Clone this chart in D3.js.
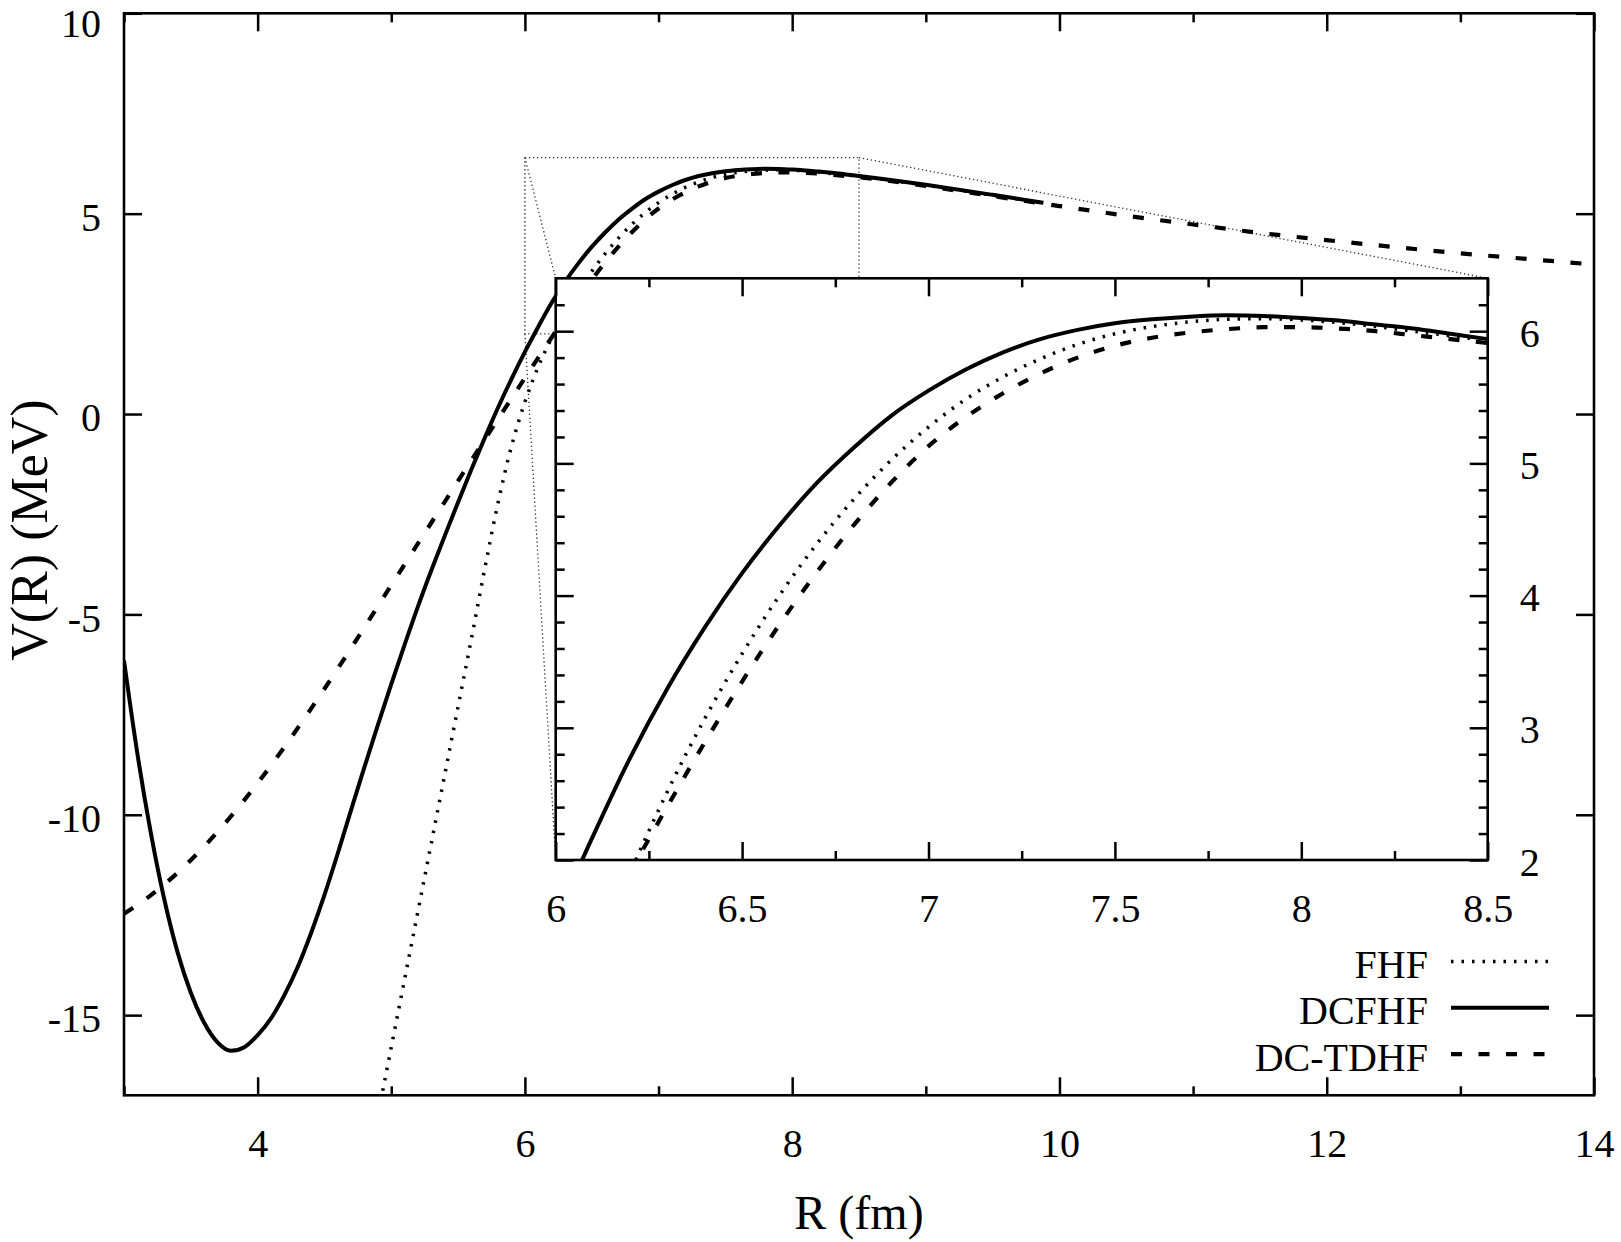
<!DOCTYPE html>
<html>
<head>
<meta charset="utf-8">
<script src="https://d3js.org/d3.v7.min.js"></script>
<style>
  body { margin: 0; background: #fff; }
  svg { display: block; }
  text { font-family: "Liberation Serif", "Times New Roman", serif; fill: #000; }
</style>
</head>
<body>
<div id="chart"></div>
<script>
// R in fm, V(R) in MeV
const rFHF = [4.80, 4.90, 5.00, 5.10, 5.20, 5.30, 5.40, 5.50, 5.60, 5.70, 5.80, 5.90, 6.00, 6.10, 6.20, 6.30, 6.40, 6.50, 6.60, 6.70, 6.80, 6.90, 7.00, 7.10, 7.20, 7.30, 7.40, 7.50, 7.60, 7.70, 7.80, 7.90, 8.00, 8.10, 8.20, 8.30, 8.40, 8.50, 9.00, 9.50, 9.88];
const vFHF = [-19.2, -17.5, -15.8, -14.1, -12.4, -10.7, -9.0, -7.3, -5.6, -3.85, -2.2, -0.8, 0.3, 1.18, 1.9, 2.52, 3.07, 3.56, 4.0, 4.39, 4.73, 5.025, 5.275, 5.485, 5.655, 5.79, 5.9, 5.98, 6.035, 6.07, 6.09, 6.095, 6.085, 6.065, 6.035, 6.0, 5.965, 5.93, 5.71, 5.46, 5.26];

const rDCFHF = [3.0, 3.1, 3.2, 3.3, 3.4, 3.5, 3.6, 3.7, 3.8, 3.9, 4.0, 4.1, 4.2, 4.3, 4.4, 4.5, 4.6, 4.7, 4.8, 4.9, 5.0, 5.1, 5.2, 5.3, 5.4, 5.5, 5.6, 5.7, 5.8, 5.9, 6.0, 6.1, 6.2, 6.3, 6.4, 6.5, 6.6, 6.7, 6.8, 6.9, 7.0, 7.1, 7.2, 7.3, 7.4, 7.5, 7.6, 7.7, 7.8, 7.9, 8.0, 8.1, 8.2, 8.3, 8.4, 8.5, 9.0, 9.5, 9.88];
const vDCFHF = [-6.15, -8.47, -10.44, -12.09, -13.42, -14.44, -15.19, -15.68, -15.89, -15.8, -15.5, -15.08, -14.5, -13.8, -12.95, -12.0, -10.96, -9.87, -8.8, -7.755, -6.74, -5.755, -4.8, -3.9, -3.04, -2.2, -1.38, -0.59, 0.17, 0.88, 1.55, 2.18, 2.775, 3.3, 3.76, 4.17, 4.53, 4.85, 5.12, 5.36, 5.55, 5.71, 5.84, 5.94, 6.01, 6.06, 6.09, 6.11, 6.12, 6.115, 6.1, 6.08, 6.05, 6.02, 5.98, 5.94, 5.72, 5.47, 5.27];

const rTDHF = [3.0, 3.2, 3.4, 3.6, 3.8, 4.0, 4.2, 4.4, 4.6, 4.8, 5.0, 5.2, 5.4, 5.6, 5.8, 6.0, 6.2, 6.4, 6.5, 6.6, 6.7, 6.8, 6.9, 7.0, 7.1, 7.2, 7.3, 7.4, 7.5, 7.6, 7.7, 7.8, 7.9, 8.0, 8.1, 8.2, 8.3, 8.4, 8.5, 9.0, 9.5, 10.0, 10.5, 11.0, 11.5, 12.0, 12.5, 13.0, 13.5, 14.0];
const vTDHF = [-12.47, -12.01, -11.45, -10.79, -10.04, -9.21, -8.31, -7.35, -6.35, -5.32, -4.27, -3.23, -2.19, -1.15, -0.12, 0.9, 1.91, 2.89, 3.35, 3.78, 4.175, 4.535, 4.855, 5.13, 5.35, 5.53, 5.68, 5.8, 5.89, 5.95, 5.99, 6.015, 6.03, 6.03, 6.02, 6.0, 5.97, 5.94, 5.91, 5.69, 5.44, 5.19, 4.95, 4.73, 4.52, 4.34, 4.17, 4.01, 3.87, 3.73];

const mainXDomain = [3, 14];
const mainYDomain = [-17, 10];
const mainXTicks = [4, 6, 8, 10, 12, 14];
const mainXMinor = [3, 5, 7, 9, 11, 13];
const mainYTicks = [-15, -10, -5, 0, 5, 10];

const insetXDomain = [6, 8.5];
const insetYDomain = [2, 6.4];
const insetXTicks = [6, 6.5, 7, 7.5, 8, 8.5];
const insetXMinor = [6.25, 6.75, 7.25, 7.75, 8.25];
const insetYTicks = [2, 3, 4, 5, 6];
const insetYMinor = [2.2, 2.4, 2.6, 2.8, 3.2, 3.4, 3.6, 3.8, 4.2, 4.4, 4.6, 4.8, 5.2, 5.4, 5.6, 5.8, 6.2];

const legendLabels = ["FHF", "DCFHF", "DC-TDHF"];

const width = 1621, height = 1242;
const fontSize = 40;

const styles = [
  { dash: "2.5,8", w: 3.5 },   // FHF dotted
  { dash: null, w: 4 },        // DCFHF solid
  { dash: "11,16.5", w: 4.2 }  // DC-TDHF dashed
];

const series = [
  { r: rFHF, v: vFHF },
  { r: rDCFHF, v: vDCFHF },
  { r: rTDHF, v: vTDHF }
];

const svg = d3.select("#chart").append("svg")
  .attr("width", width)
  .attr("height", height);

const main = { left: 124, right: 1594, top: 13.3, bottom: 1095.3 };
const ins = { left: 555.7, right: 1487.7, top: 278.3, bottom: 860 };

const x = d3.scaleLinear().domain(mainXDomain).range([main.left, main.right]);
const y = d3.scaleLinear().domain(mainYDomain).range([main.bottom, main.top]);
const xi = d3.scaleLinear().domain(insetXDomain).range([ins.left, ins.right]);
const yi = d3.scaleLinear().domain(insetYDomain).range([ins.bottom, ins.top]);

const defs = svg.append("defs");
defs.append("clipPath").attr("id", "clipMain").append("rect")
  .attr("x", main.left).attr("y", main.top)
  .attr("width", main.right - main.left).attr("height", main.bottom - main.top);
defs.append("clipPath").attr("id", "clipInset").append("rect")
  .attr("x", ins.left).attr("y", ins.top)
  .attr("width", ins.right - ins.left).attr("height", ins.bottom - ins.top);

function drawCurves(g, sx, sy) {
  series.forEach((s, i) => {
    const pts = s.r.map((r, j) => [r, s.v[j]]);
    const line = d3.line()
      .x(d => sx(d[0]))
      .y(d => sy(d[1]))
      .curve(d3.curveMonotoneX);
    g.append("path")
      .attr("d", line(pts))
      .attr("fill", "none")
      .attr("stroke", "#000")
      .attr("stroke-width", styles[i].w)
      .attr("stroke-dasharray", styles[i].dash)
      .attr("stroke-linejoin", "round");
  });
}

// one side of ticks, pointing inward
function tickSide(axisFn, scale, values, len, tx, ty, labels, pad) {
  const ax = axisFn(scale)
    .tickValues(values)
    .tickSizeInner(-len)
    .tickSizeOuter(0)
    .tickPadding(pad || 0)
    .tickFormat(labels ? (d => String(d)) : "");
  const g = svg.append("g")
    .attr("transform", `translate(${tx},${ty})`)
    .call(ax);
  g.select(".domain").remove();
  g.selectAll(".tick line").attr("stroke", "#000").attr("stroke-width", 2.5);
  g.selectAll("text").attr("font-size", fontSize).attr("fill", "#000")
    .style("font-family", '"Liberation Serif", "Times New Roman", serif');
  return g;
}

// main curves
const gMain = svg.append("g").attr("clip-path", "url(#clipMain)");

// zoom box and connector lines
const zoomStyle = g => g.attr("fill", "none").attr("stroke", "#333")
  .attr("stroke-width", 1.3).attr("stroke-dasharray", "1.3,2.7");
const bx0 = x(insetXDomain[0]), bx1 = x(insetXDomain[1]);
const by0 = y(insetYDomain[1]), by1 = y(insetYDomain[0]);
gMain.append("rect")
  .attr("x", bx0).attr("y", by0).attr("width", bx1 - bx0).attr("height", by1 - by0)
  .call(zoomStyle);
[[bx0, by0, ins.left, ins.top], [bx1, by0, ins.right, ins.top],
 [bx0, by1, ins.left, ins.bottom], [bx1, by1, ins.right, ins.bottom]].forEach(c => {
  gMain.append("line")
    .attr("x1", c[0]).attr("y1", c[1]).attr("x2", c[2]).attr("y2", c[3])
    .call(zoomStyle);
});

drawCurves(gMain, x, y);

// main ticks
tickSide(d3.axisBottom, x, mainXTicks, 18, 0, main.bottom, true, 33.6);
tickSide(d3.axisBottom, x, mainXMinor, 9, 0, main.bottom, false);
tickSide(d3.axisTop, x, mainXTicks, 18, 0, main.top, false);
tickSide(d3.axisTop, x, mainXMinor, 9, 0, main.top, false);
tickSide(d3.axisLeft, y, mainYTicks, 18, main.left, 0, true, 23)
  .selectAll("text")
  .attr("dy", d => d === mainYDomain[1] ? "0.57em" : "0.42em"); // keep top label inside the page
tickSide(d3.axisRight, y, mainYTicks, 18, main.right, 0, false);

svg.append("rect")
  .attr("x", main.left).attr("y", main.top)
  .attr("width", main.right - main.left).attr("height", main.bottom - main.top)
  .attr("fill", "none").attr("stroke", "#000").attr("stroke-width", 2.6);

// inset
svg.append("rect")
  .attr("x", ins.left).attr("y", ins.top)
  .attr("width", ins.right - ins.left).attr("height", ins.bottom - ins.top)
  .attr("fill", "#fff");
const gIns = svg.append("g").attr("clip-path", "url(#clipInset)");
drawCurves(gIns, xi, yi);

tickSide(d3.axisBottom, xi, insetXTicks, 18, 0, ins.bottom, true, 33.6);
tickSide(d3.axisBottom, xi, insetXMinor, 9, 0, ins.bottom, false);
tickSide(d3.axisTop, xi, insetXTicks, 18, 0, ins.top, false);
tickSide(d3.axisTop, xi, insetXMinor, 9, 0, ins.top, false);
tickSide(d3.axisLeft, yi, insetYTicks, 18, ins.left, 0, false);
tickSide(d3.axisLeft, yi, insetYMinor, 9, ins.left, 0, false);
tickSide(d3.axisRight, yi, insetYTicks, 18, ins.right, 0, true, 32)
  .selectAll("text").attr("dy", "0.38em");
tickSide(d3.axisRight, yi, insetYMinor, 9, ins.right, 0, false);

svg.append("rect")
  .attr("x", ins.left).attr("y", ins.top)
  .attr("width", ins.right - ins.left).attr("height", ins.bottom - ins.top)
  .attr("fill", "none").attr("stroke", "#000").attr("stroke-width", 2.6);

// axis titles
svg.append("text")
  .attr("x", (main.left + main.right) / 2)
  .attr("y", 1229)
  .attr("text-anchor", "middle")
  .attr("font-size", 48)
  .text("R (fm)");

svg.append("text")
  .attr("transform", `translate(47,530) rotate(-90)`)
  .attr("text-anchor", "middle")
  .attr("font-size", 52)
  .text("V(R) (MeV)");

// legend
const legend = svg.append("g");
legendLabels.forEach((name, i) => {
  const base = 978 + i * 46.3;
  legend.append("text")
    .attr("x", 1428).attr("y", base)
    .attr("text-anchor", "end")
    .attr("font-size", fontSize)
    .text(name);
  legend.append("line")
    .attr("x1", 1451).attr("x2", 1549)
    .attr("y1", base - 16.5).attr("y2", base - 16.5)
    .attr("stroke", "#000")
    .attr("stroke-width", styles[i].w)
    .attr("stroke-dasharray", styles[i].dash);
});
</script>
</body>
</html>
